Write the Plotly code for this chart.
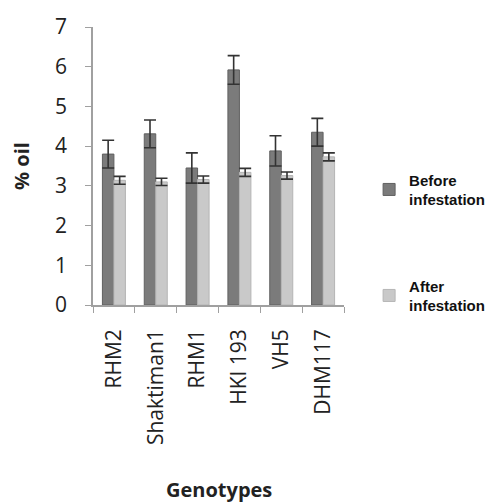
import plotly.graph_objects as go

genotypes = ["RHM2", "Shaktiman1", "RHM1", "HKI 193", "VH5", "DHM117"]
before_vals = [3.80, 4.31, 3.45, 5.92, 3.88, 4.35]
before_err = [0.35, 0.35, 0.38, 0.36, 0.38, 0.35]
after_vals = [3.14, 3.10, 3.16, 3.34, 3.26, 3.73]
after_err = [0.10, 0.09, 0.09, 0.10, 0.09, 0.10]

tick_font = dict(family="Open Sans, sans-serif", size=21, color="#222222")

fig = go.Figure()
fig.add_trace(go.Bar(
    x=genotypes, y=before_vals, name="<b>Before<br>infestation</b>",
    legendgroup="b",
    marker=dict(color="#7b7b7b", line=dict(color="#606060", width=1)),
    error_y=dict(type="data", array=before_err, color="#333333", thickness=1.6, width=6),
))
fig.add_trace(go.Bar(
    x=genotypes, y=after_vals, name="<b>After<br>infestation</b>",
    legendgroup="a",
    marker=dict(color="#c9c9c9", line=dict(color="#b5b5b5", width=1)),
    error_y=dict(type="data", array=after_err, color="#333333", thickness=1.6, width=6),
))

fig.update_layout(
    width=485, height=494,
    margin=dict(l=85, r=149, t=19, b=197, autoexpand=False),
    paper_bgcolor="white", plot_bgcolor="white",
    barmode="group", bargap=0.45, bargroupgap=0,
    showlegend=True,
    legend=dict(
        x=1.1, xanchor="left", y=0.225, yanchor="middle",
        font=dict(family="Liberation Sans, Arial, sans-serif", size=15, color="#111111"),
        tracegroupgap=64, traceorder="grouped",
        itemwidth=30, valign="middle",
    ),
    xaxis=dict(
        type="category", tickson="boundaries", ticks="outside", ticklen=6,
        tickcolor="#a0a0a0", showline=True, linecolor="#a0a0a0", linewidth=1.5,
        tickangle=-90, tickfont=tick_font, showgrid=False, ticklabelstandoff=14,
        automargin=False,
    ),
    yaxis=dict(
        range=[0, 7], dtick=1, ticks="outside", ticklen=6, tickcolor="#a0a0a0",
        showline=True, linecolor="#a0a0a0", linewidth=1.5, showgrid=False,
        zeroline=False, tickfont=tick_font, ticklabelstandoff=14, automargin=False,
        title=dict(text="<b>% oil</b>", font=dict(family="Open Sans, sans-serif", size=20, color="#222222"), standoff=20),
    ),
    annotations=[dict(
        text="<b>Genotypes</b>", xref="paper", yref="paper", x=0.5, y=-0.665,
        xanchor="center", yanchor="middle", showarrow=False,
        font=dict(family="Open Sans, sans-serif", size=20, color="#222222"),
    )],
)

fig.write_html("out.html")
